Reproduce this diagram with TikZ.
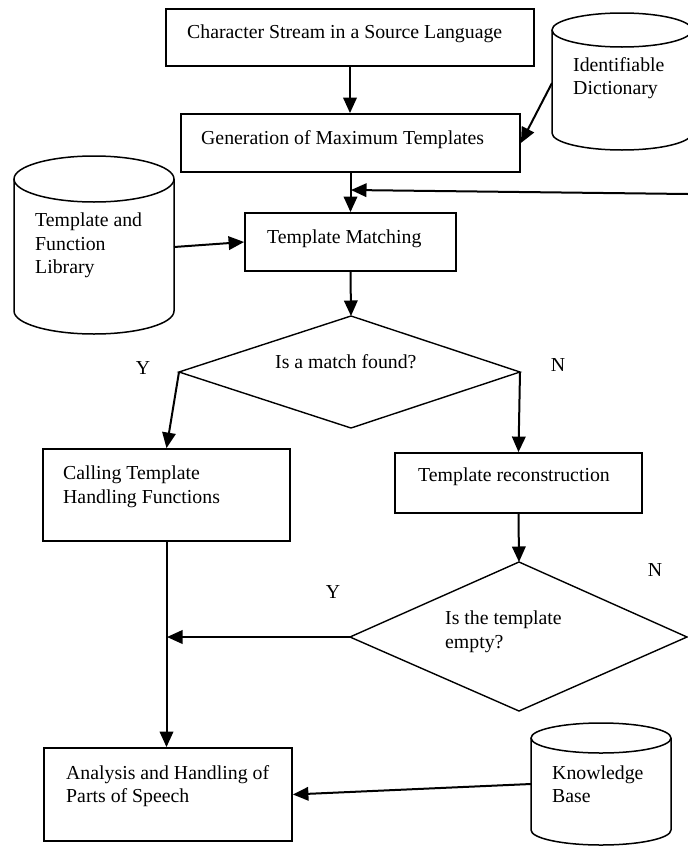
\documentclass[tikz,border=0pt]{standalone}
\usepackage{fontspec}
\setmainfont{Liberation Serif}
\usetikzlibrary{arrows.meta}
\begin{document}
\begin{tikzpicture}[x=1pt,y=-1pt,
  rbox/.style={draw,line width=1.8pt,inner sep=0pt},
  txt/.style={inner sep=0pt,anchor=base west,font=\fontsize{19.8pt}{23.5pt}\selectfont},
  lab/.style={inner sep=0pt,anchor=center,font=\fontsize{19.8pt}{23.5pt}\selectfont},
  dia/.style={draw,line width=1.4pt,line join=miter},
  cyl/.style={draw,line width=1.5pt},
  arr/.style={draw,line width=2pt,-{Triangle[length=15.5pt,width=13.5pt]}}]
\useasboundingbox (0,0) rectangle (688,846);

% boxes
\node[rbox,minimum width=368pt,minimum height=57pt] (b1) at (350,37.5) {};
\node[rbox,minimum width=339pt,minimum height=58pt] (b2) at (350.5,143) {};
\node[rbox,minimum width=211pt,minimum height=58pt] (tm) at (350.5,242) {};
\node[rbox,minimum width=247pt,minimum height=92pt] (ct) at (166.5,495) {};
\node[rbox,minimum width=247pt,minimum height=60pt] (tr) at (518.5,483) {};
\node[rbox,minimum width=248pt,minimum height=93pt] (ah) at (168,794.5) {};

% diamonds
\coordinate (d1n) at (351,316);
\coordinate (d1w) at (179,372);
\coordinate (d1e) at (520,372);
\coordinate (d1s) at (351,428);
\draw[dia] (d1n) -- (d1e) -- (d1s) -- (d1w) -- cycle;
\coordinate (d2n) at (519,562);
\coordinate (d2w) at (350,637);
\coordinate (d2e) at (687,637);
\coordinate (d2s) at (519,711);
\draw[dia] (d2n) -- (d2e) -- (d2s) -- (d2w) -- cycle;

% cylinders
\draw[cyl] (94,179) ellipse[x radius=80,y radius=23];
\draw[cyl] (14,179) -- (14,311) arc[start angle=180,end angle=0,x radius=80,y radius=23] -- (174,179);
\coordinate (libE) at (174,247);
\draw[cyl] (622,30) ellipse[x radius=70,y radius=17];
\draw[cyl] (552,30) -- (552,133) arc[start angle=180,end angle=0,x radius=70,y radius=17] -- (692,30);
\coordinate (dictW) at (552,83);
\draw[cyl] (601,738) ellipse[x radius=70,y radius=15];
\draw[cyl] (531,738) -- (531,830) arc[start angle=180,end angle=0,x radius=70,y radius=15] -- (671,738);
\coordinate (kbW) at (531,784);

% texts
\node[txt] (t1) at (187,38.5) {Character Stream in a Source Language};
\node[txt] (t2) at (201,144.5) {Generation of Maximum Templates};
\node[txt] (t3) at (267,243.5) {Template Matching};
\node[txt] (t4a) at (573,71.5) {Identifiable};
\node[txt] (t4b) at (573,94.5) {Dictionary};
\node[txt] (t5a) at (35,226.5) {Template and};
\node[txt] (t5b) at (35,250) {Function};
\node[txt] (t5c) at (35,273.5) {Library};
\node[txt] (t6) at (275,368.5) {Is a match found?};
\node[txt] (t7a) at (63,479.5) {Calling Template};
\node[txt] (t7b) at (63,503.5) {Handling Functions};
\node[txt] (t8) at (418,481.5) {Template reconstruction};
\node[txt] (t9a) at (445,624.5) {Is the template};
\node[txt] (t9b) at (445,648.5) {empty?};
\node[txt] (t10a) at (66,779.5) {Analysis and Handling of};
\node[txt] (t10b) at (66,802.5) {Parts of Speech};
\node[txt] (t11a) at (552,779.5) {Knowledge};
\node[txt] (t11b) at (552,802.5) {Base};
\node[lab] (y1) at (143,368) {Y};
\node[lab] (n1) at (558,365) {N};
\node[lab] (y2) at (333,592) {Y};
\node[lab] (n2) at (655,570) {N};

% connectors
\coordinate (fb) at (688,194);
\coordinate (j1) at (351,190);
\coordinate (j2) at (167,637);
\draw[arr] (b1.south) -- (b1.south |- b2.north);
\draw[arr] (dictW) -- (b2.east);
\draw[arr] (fb) -- (j1);
\draw[arr] (b2.south) -- (tm.north);
\draw[arr] (libE) -- (tm.west);
\draw[arr] (tm.south) -- (d1n);
\draw[arr] (d1w) -- (ct.north);
\draw[arr] (d1e) -- (tr.north);
\draw[arr] (tr.south) -- (d2n);
\draw[arr] (d2w) -- (j2);
\draw[arr] (ct.south) -- (ct.south |- ah.north);
\draw[arr] (kbW) -- (ah.east);
\end{tikzpicture}
\end{document}
